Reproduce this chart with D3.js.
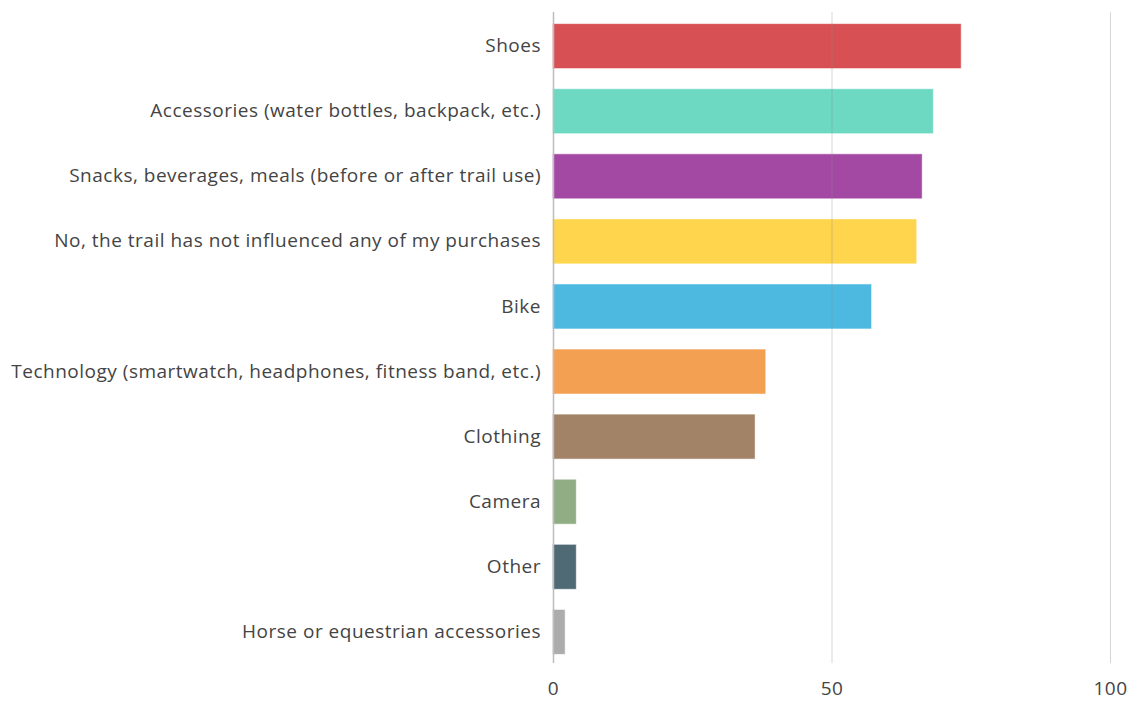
<!DOCTYPE html>
<html>
<head>
<meta charset="utf-8">
<script src="https://cdn.jsdelivr.net/npm/d3@7"></script>
<style>
  html, body { margin: 0; padding: 0; background: #fff; }
  svg { display: block; }
  text { font-family: "Open Sans", "Noto Sans", sans-serif; }
</style>
</head>
<body>
<div id="chart"></div>
<script>
// Purchases influenced by the trail (% of respondents)
const categories = [
  "Shoes",
  "Accessories (water bottles, backpack, etc.)",
  "Snacks, beverages, meals (before or after trail use)",
  "No, the trail has not influenced any of my purchases",
  "Bike",
  "Technology (smartwatch, headphones, fitness band, etc.)",
  "Clothing",
  "Camera",
  "Other",
  "Horse or equestrian accessories"
];
const values = [73.2, 68.2, 66.2, 65.2, 57.1, 38.1, 36.2, 4.1, 4.1, 2.1];
const colors = [
  "#d64a4d", "#68d8c0", "#a043a1", "#fed447", "#47b7df",
  "#f49d4c", "#9f7f62", "#8daa80", "#4a6571", "#a9a9a9"
];
const xTicks = [0, 50, 100];

const width = 1133, height = 704;
const plotLeft = 553, plotRight = 1110, plotTop = 12, plotBottom = 663;

const svg = d3.select("#chart").append("svg")
  .attr("width", width).attr("height", height);

const x = d3.scaleLinear().domain([0, 100]).range([plotLeft, plotRight]);
const y = d3.scaleBand().domain(categories)
  .range([13.5, 664.5]).paddingInner(0.325).paddingOuter(0.1625);

// Bars
svg.append("g").selectAll("rect")
  .data(categories)
  .join("rect")
  .attr("x", x(0))
  .attr("y", d => y(d))
  .attr("width", (d, i) => x(values[i]) - x(0))
  .attr("height", y.bandwidth())
  .attr("fill", (d, i) => colors[i])
  .attr("fill-opacity", 0.97)
  .attr("stroke", (d, i) => colors[i])
  .attr("stroke-opacity", 0.45)
  .attr("stroke-width", 1);

// Vertical gridlines over the bars
svg.append("g").selectAll("line")
  .data(xTicks)
  .join("line")
  .attr("x1", d => x(d) + 0.5).attr("x2", d => x(d) + 0.5)
  .attr("y1", plotTop).attr("y2", plotBottom)
  .attr("stroke", d => d === 0 ? "#bdbdbd" : "#8a8a8a")
  .attr("stroke-opacity", d => d === 0 ? 1 : 0.35)
  .attr("stroke-width", d => d === 0 ? 1.5 : 1);

// Category labels
const yAxis = d3.axisLeft(y).tickSize(0).tickPadding(12);
const gy = svg.append("g").attr("transform", `translate(${plotLeft},0)`).call(yAxis);
gy.select(".domain").remove();
gy.selectAll("text")
  .attr("fill", "#444")
  .style("font-size", "19px")
  .style("letter-spacing", "0.5px")
  .style("font-family", "'Open Sans', 'Noto Sans', sans-serif");

// Value axis labels
const xAxis = d3.axisBottom(x).tickValues(xTicks).tickSize(0).tickPadding(0);
const gx = svg.append("g").attr("transform", `translate(0,681)`).call(xAxis);
gx.select(".domain").remove();
gx.selectAll("text")
  .attr("fill", "#444")
  .attr("dy", "0.71em")
  .style("font-size", "19px")
  .style("letter-spacing", "0.5px")
  .style("font-family", "'Open Sans', 'Noto Sans', sans-serif");
</script>
</body>
</html>
